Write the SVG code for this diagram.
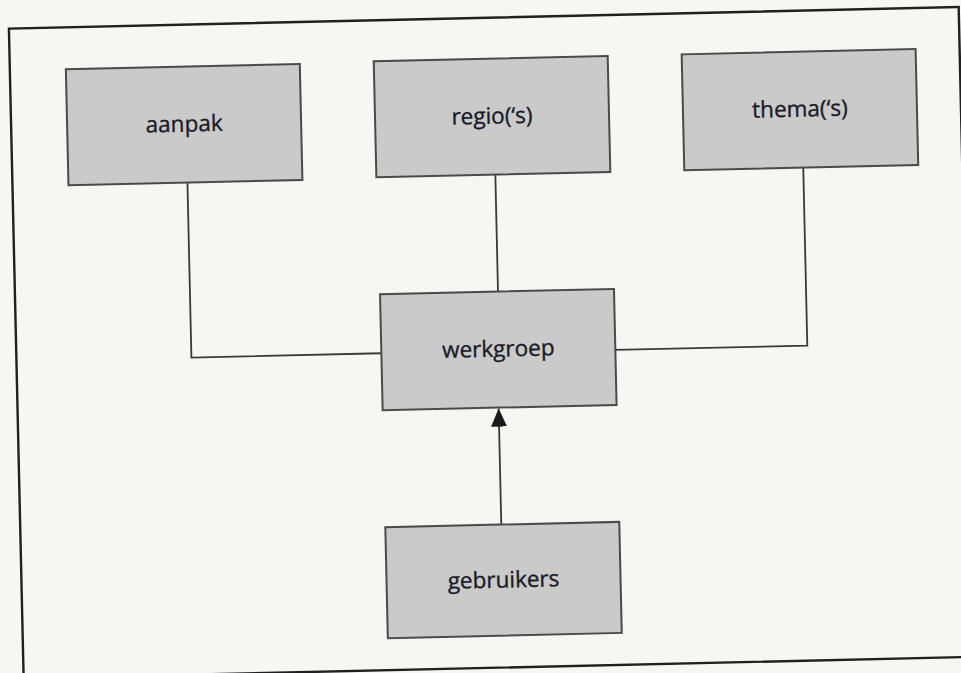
<svg xmlns="http://www.w3.org/2000/svg" width="961" height="673" viewBox="0 0 961 673">
  <style>
    .box { fill: #cacaca; stroke: #4a4a4a; stroke-width: 2; }
    .lbl { font-family: "Open Sans", "Liberation Sans", sans-serif; font-size: 22.5px; fill: #1a1a28; stroke: #1a1a28; stroke-width: 0.35; text-anchor: middle; }
    .conn { fill: none; stroke: #3a3a3a; stroke-width: 1.8; }
    .frame { fill: none; stroke: #202020; stroke-width: 2.4; }
  </style>
  <defs>
    <marker id="arrowhead" viewBox="0 0 18 16" refX="18" refY="8" markerWidth="18" markerHeight="16" markerUnits="userSpaceOnUse" orient="auto">
      <path d="M0,0 L18,8 L0,16 z" fill="#1a1a1a"/>
    </marker>
  </defs>
  <rect x="0" y="0" width="961" height="673" fill="#f6f6f5"/>
  <g transform="rotate(-1.3 480 336)">
    <rect class="frame" x="16" y="18" width="950" height="650"/>
    <g id="connectors">
      <polyline class="conn" points="191,176 191,351 381,351"/>
      <line class="conn" x1="499" y1="175" x2="499" y2="292"/>
      <polyline class="conn" points="807,175 807,353 615,353"/>
      <line class="conn" x1="497" y1="525" x2="497" y2="409" marker-end="url(#arrowhead)"/>
    </g>
    <g id="aanpak">
      <rect class="box" x="72" y="60" width="234" height="116"/>
      <text class="lbl" x="189" y="125">aanpak</text>
    </g>
    <g id="regio">
      <rect class="box" x="380" y="59" width="234" height="116"/>
      <text class="lbl" x="497" y="124">regio(‘s)</text>
    </g>
    <g id="thema">
      <rect class="box" x="688" y="59" width="234" height="116"/>
      <text class="lbl" x="805" y="124">thema(‘s)</text>
    </g>
    <g id="werkgroep">
      <rect class="box" x="381" y="292" width="234" height="116"/>
      <text class="lbl" x="498" y="357">werkgroep</text>
    </g>
    <g id="gebruikers">
      <rect class="box" x="381" y="525" width="234" height="111"/>
      <text class="lbl" x="498" y="588">gebruikers</text>
    </g>
  </g>
</svg>
